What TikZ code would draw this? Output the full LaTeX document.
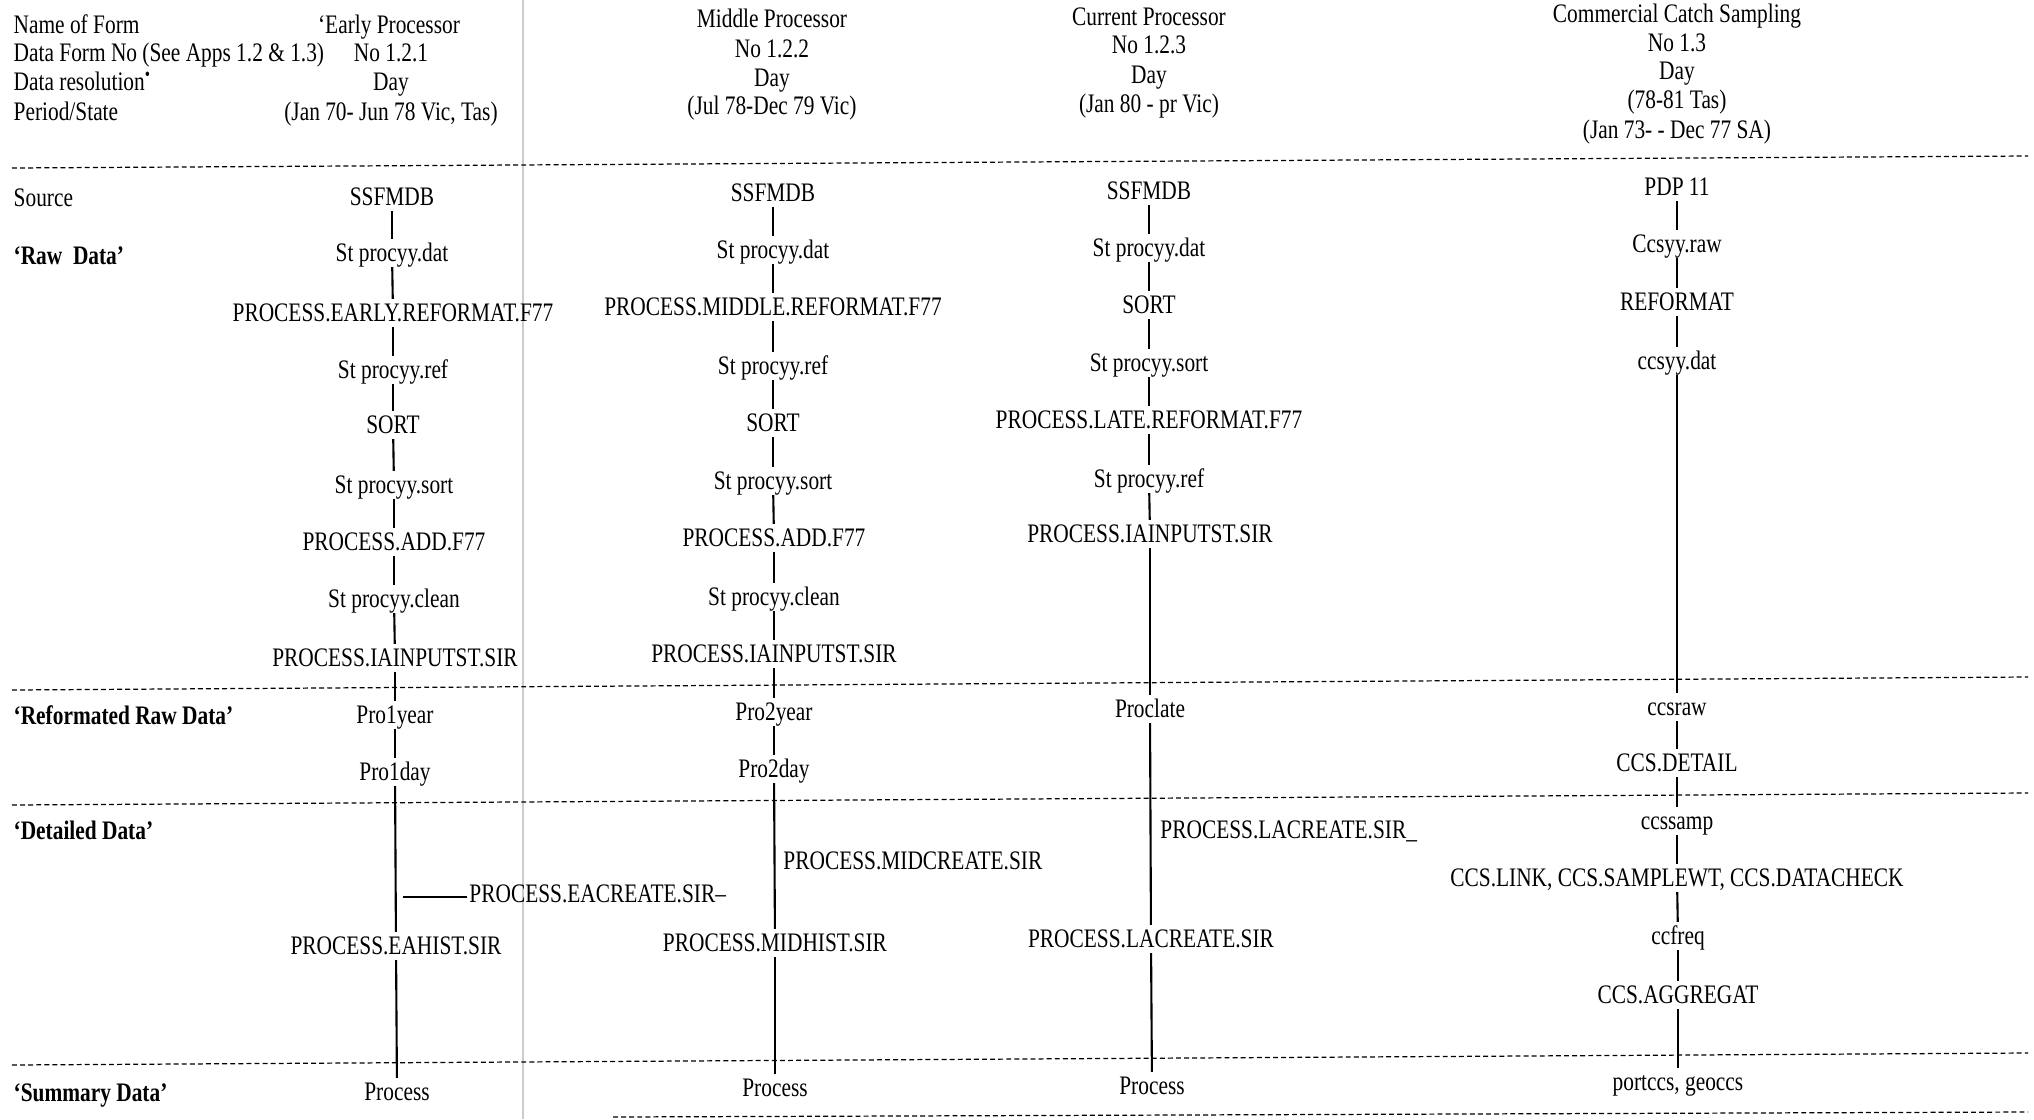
\documentclass[tikz,border=0pt]{standalone}
\usepackage{fontspec}
\setmainfont[FakeStretch=0.8]{Liberation Serif}
\usepackage{tikz}
\usetikzlibrary{positioning}

\begin{document}
\begin{tikzpicture}[every node/.style={font=\fontsize{7.6}{9}\selectfont, text height=5.4pt, text depth=0.6pt, inner ysep=0.8pt}]
            \tikzstyle{lbl}=[anchor=west, inner xsep=0pt]
            \tikzstyle{row}=[anchor=west, inner xsep=0pt, font=\fontsize{7.6}{9}\selectfont\bfseries]
            \tikzstyle{side}=[anchor=west, inner xsep=0.5pt]
            \tikzstyle{sep}=[dash pattern=on 1.4pt off 0.9pt, line width=0.35pt]
            \tikzstyle{flow}=[line width=0.6pt]

            \useasboundingbox (0,0) rectangle (20.34,-11.19);

            % faint fold of the scanned page
            \draw[gray!40, line width=0.3pt] (5.23,0) -- (5.23,-11.19);

            % header
            \node[lbl] (nameform) at (0.13,-0.25) {Name of Form};
            \node[lbl] (formno) at (0.13,-0.53) {Data Form No (See Apps 1.2 \& 1.3)};
            \node[lbl] (resol) at (0.13,-0.82) {Data resolution\textsuperscript{\textbullet}};
            \node[lbl] (period) at (0.13,-1.12) {Period/State};

            \node (ename) at (3.89,-0.25) {`Early Processor};
            \node (eno) at (3.91,-0.53) {No 1.2.1};
            \node (eday) at (3.91,-0.82) {Day};
            \node (eper) at (3.91,-1.12) {(Jan 70- Jun 78 Vic, Tas)};

            \node (mname) at (7.72,-0.19) {Middle Processor};
            \node (mno) at (7.72,-0.49) {No 1.2.2};
            \node (mday) at (7.72,-0.78) {Day};
            \node (mper) at (7.72,-1.06) {(Jul 78-Dec 79 Vic)};

            \node (cname) at (11.49,-0.17) {Current Processor};
            \node (cno) at (11.49,-0.45) {No 1.2.3};
            \node (cday) at (11.49,-0.75) {Day};
            \node (cper) at (11.49,-1.04) {(Jan 80 - pr Vic)};

            \node (sname) at (16.77,-0.14) {Commercial Catch Sampling};
            \node (sno) at (16.77,-0.43) {No 1.3};
            \node (sday) at (16.77,-0.71) {Day};
            \node (sper) at (16.77,-1.00) {(78-81 Tas)};
            \node (sper2) at (16.77,-1.30) {(Jan 73- - Dec 77 SA)};

            % bands
            \draw[sep] (0.12,-1.68) -- (20.28,-1.56);
            \draw[sep] (0.12,-6.90) -- (20.28,-6.77);
            \draw[sep] (0.12,-8.05) -- (20.28,-7.93);
            \draw[sep] (0.12,-10.65) -- (20.28,-10.53);
            \draw[sep] (6.13,-11.17) -- (20.28,-11.12);

            \node[lbl] (source) at (0.13,-1.98) {Source};
            \node[row] (raw) at (0.13,-2.56) {`Raw~ Data'};
            \node[row] (reform) at (0.13,-7.16) {`Reformated Raw Data'};
            \node[row] (detail) at (0.13,-8.31) {`Detailed Data'};
            \node[row] (summ) at (0.13,-10.93) {`Summary Data'};

            % early processor
            \node (e1) at (3.92,-1.97) {SSFMDB};
            \node (e2) at (3.92,-2.53) {St procyy.dat};
            \node (e3) at (3.93,-3.13) {PROCESS.EARLY.REFORMAT.F77};
            \node (e4) at (3.93,-3.70) {St procyy.ref};
            \node (e5) at (3.93,-4.25) {SORT};
            \node (e6) at (3.94,-4.85) {St procyy.sort};
            \node (e7) at (3.94,-5.42) {PROCESS.ADD.F77};
            \node (e8) at (3.94,-5.99) {St procyy.clean};
            \node (e9) at (3.95,-6.58) {PROCESS.IAINPUTST.SIR};
            \node (e10) at (3.95,-7.15) {Pro1year};
            \node (e11) at (3.95,-7.72) {Pro1day};
            \node (e12) at (3.96,-9.46) {PROCESS.EAHIST.SIR};
            \node (e13) at (3.97,-10.92) {Process};
            \node[side] (ecr) at (4.67,-8.94) {PROCESS.EACREATE.SIR--};
            \coordinate (ecrstart) at (4.03,-8.97);

            % middle processor
            \node (m1) at (7.73,-1.93) {SSFMDB};
            \node (m2) at (7.73,-2.50) {St procyy.dat};
            \node (m3) at (7.73,-3.07) {PROCESS.MIDDLE.REFORMAT.F77};
            \node (m4) at (7.73,-3.66) {St procyy.ref};
            \node (m5) at (7.73,-4.23) {SORT};
            \node (m6) at (7.73,-4.81) {St procyy.sort};
            \node (m7) at (7.74,-5.38) {PROCESS.ADD.F77};
            \node (m8) at (7.74,-5.97) {St procyy.clean};
            \node (m9) at (7.74,-6.54) {PROCESS.IAINPUTST.SIR};
            \node (m10) at (7.74,-7.12) {Pro2year};
            \node (m11) at (7.74,-7.69) {Pro2day};
            \node (m12) at (7.75,-9.43) {PROCESS.MIDHIST.SIR};
            \node (m13) at (7.75,-10.88) {Process};
            \node[side] (mcr) at (7.81,-8.61) {PROCESS.MIDCREATE.SIR};

            % current processor
            \node (c1) at (11.49,-1.91) {SSFMDB};
            \node (c2) at (11.49,-2.48) {St procyy.dat};
            \node (c3) at (11.49,-3.05) {SORT};
            \node (c4) at (11.49,-3.63) {St procyy.sort};
            \node (c5) at (11.49,-4.20) {PROCESS.LATE.REFORMAT.F77};
            \node (c6) at (11.49,-4.79) {St procyy.ref};
            \node (c7) at (11.50,-5.34) {PROCESS.IAINPUTST.SIR};
            \node (c8) at (11.50,-7.09) {Proclate};
            \node (c9) at (11.51,-9.39) {PROCESS.LACREATE.SIR};
            \node (c10) at (11.52,-10.86) {Process};
            \node[side] (ccr) at (11.58,-8.30) {PROCESS.LACREATE.SIR\_};

            % commercial catch sampling
            \node (s1) at (16.77,-1.87) {PDP 11};
            \node (s2) at (16.77,-2.44) {Ccsyy.raw};
            \node (s3) at (16.77,-3.02) {REFORMAT};
            \node (s4) at (16.77,-3.61) {ccsyy.dat};
            \node (s5) at (16.77,-7.07) {ccsraw};
            \node (s6) at (16.77,-7.63) {CCS.DETAIL};
            \node (s7) at (16.77,-8.21) {ccssamp};
            \node (s8) at (16.77,-8.78) {CCS.LINK, CCS.SAMPLEWT, CCS.DATACHECK};
            \node (s9) at (16.78,-9.36) {ccfreq};
            \node (s10) at (16.78,-9.95) {CCS.AGGREGAT};
            \node (s11) at (16.78,-10.82) {portccs, geoccs};

            \foreach \a/\b in {e1/e2,e2/e3,e3/e4,e4/e5,e5/e6,e6/e7,e7/e8,e8/e9,e9/e10,e10/e11,e11/e12,e12/e13,
                               m1/m2,m2/m3,m3/m4,m4/m5,m5/m6,m6/m7,m7/m8,m8/m9,m9/m10,m10/m11,m11/m12,m12/m13,
                               c1/c2,c2/c3,c3/c4,c4/c5,c5/c6,c6/c7,c7/c8,c8/c9,c9/c10,
                               s1/s2,s2/s3,s3/s4,s4/s5,s5/s6,s6/s7,s7/s8,s8/s9,s9/s10,s10/s11}
                \draw[flow] (\a) -- (\b);
            \draw[flow, line width=0.5pt] (ecrstart) -- (ecrstart -| ecr.west);
        \end{tikzpicture}
\end{document}
